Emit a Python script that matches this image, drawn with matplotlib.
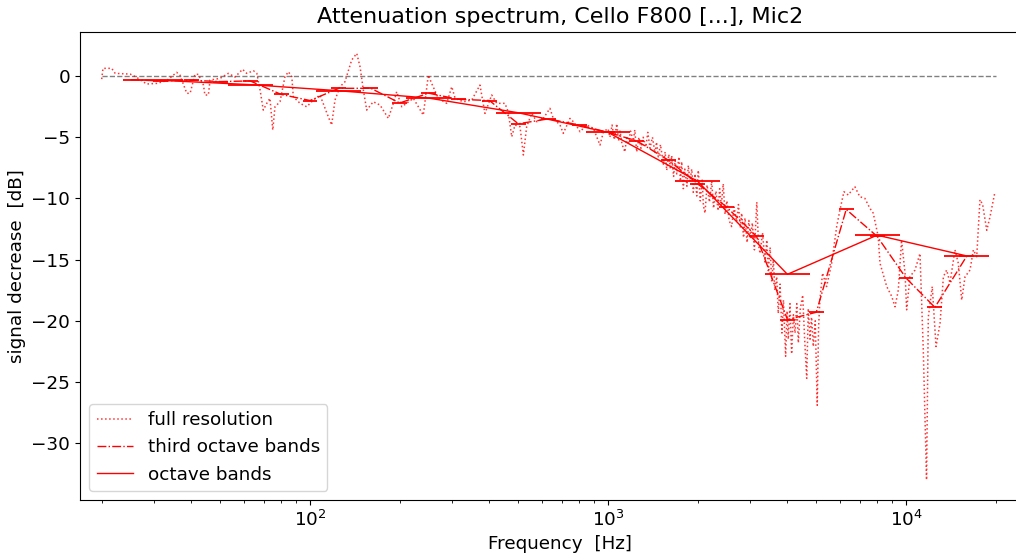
import numpy as np
import matplotlib
matplotlib.use("Agg")
import matplotlib.pyplot as plt

# full resolution spectrum, low part (Hz, dB)
low_freq = [20.0, 20.2, 21.6, 22.2, 24.9, 26.1, 28.3, 30.6, 33.0, 35.7, 36.6, 38.6, 39.6, 41.1, 42.2,
            43.9, 44.4, 45.6, 46.2, 49.9, 53.2, 56.0, 59.4, 61.3, 64.6, 66.3, 68.0, 69.7, 71.6, 73.4,
            75.0, 76.3, 79.3, 82.4, 84.6, 86.9, 87.9, 92.6, 97.5, 102.6, 108.0, 115.2, 118.2, 121.3,
            126.1, 131.0, 138.0, 143.5, 147.2, 151.0, 155.0, 163.0, 171.8, 183.2, 190.4, 195.4, 203.2,
            222.2, 240, 249.5, 256, 269.6, 287.6, 299, 306.9, 326.9, 348.9, 371.8, 386.4, 407.2, 423.3,
            451, 462.5, 475.3, 487.5, 506.8, 520, 533.4, 554.6, 576.6, 606.6, 638.6, 655, 690.2, 707.9,
            745.5, 774.8, 805.4, 848.3, 893, 940.1, 965.6]
low_db = [-0.25, 0.63, 0.63, 0.22, 0.16, -0.08, -0.65, -0.6, -0.38, 0.3, 0.08, -1.41, -1.41, 0.14, 0.14,
          -0.74, -1.55, -1.55, -0.33, -0.19, 0.22, -0.08, 0.55, 0.22, 0.43, 0.22, -1.14, -2.78, -2.23, -1.82,
          -4.41, -2.51, -2.1, -0.06, 0.35, -0.06, -1.69, -2.23, -2.51, -1.96, -1.55, -3.33, -4.0, -1.96,
          -0.87, -0.47, 1.31, 1.85, 0.76, -1.14, -2.78, -2.1, -2.37, -3.46, -2.23, -1.28, -2.51,
          -1.82, -3.19, 0.08, -0.6, -1.82, -2.23, -0.87, -1.82, -2.1, -1.96, -0.74, -3.05, -1.55, -2.23,
          -2.23, -2.92, -4.96, -4.0, -4.14, -6.45, -4.14, -3.05, -3.73, -3.46, -2.64, -3.46, -4.0, -4.68,
          -3.46, -3.86, -4.55, -4.0, -4.27, -5.64, -4.55]

# full resolution spectrum, dense middle part (Hz, dB)
mid_freq = [1000, 1015, 1032, 1050, 1070, 1085, 1097, 1115, 1140, 1155, 1170, 1190, 1216, 1230, 1248,
            1270, 1290, 1313, 1340, 1360, 1383, 1410, 1438, 1455, 1475, 1500, 1534, 1555, 1574, 1600,
            1620, 1636, 1660, 1680, 1701, 1730, 1750, 1767, 1790, 1810, 1840, 1860, 1884, 1910, 1933,
            1960, 1985, 2009, 2040, 2070, 2090, 2116, 2150, 2190, 2229, 2260, 2303, 2340, 2370, 2400,
            2436, 2470, 2506, 2550, 2599, 2650, 2702, 2740, 2780, 2809, 2850, 2882, 2930, 2970, 3010,
            3050, 3100, 3157, 3200, 3238, 3300, 3365, 3410, 3452, 3500, 3543, 3588, 3630, 3682, 3727,
            3780, 3834, 3880, 3945, 3990, 4027, 4080, 4132, 4190, 4243, 4300, 4352, 4420, 4501, 4570,
            4643, 4700, 4764, 4820, 4887, 4960, 5036, 5090, 5141]
mid_db = [-4.3, -5.0, -4.0, -5.2, -3.9, -5.3, -4.5, -5.6, -6.2, -4.9, -5.6, -4.5, -5.3, -4.4, -6.2,
          -5.0, -5.9, -5.0, -5.8, -4.6, -5.9, -5.0, -6.3, -5.4, -6.6, -5.6, -7.2, -6.2, -7.7, -6.4,
          -7.6, -6.5, -8.2, -6.9, -8.0, -6.6, -8.6, -7.0, -9.2, -7.6, -9.0, -7.3, -8.6, -7.6, -9.5,
          -8.0, -9.8, -7.7, -10.2, -8.5, -10.6, -11.2, -8.9, -10.3, -8.6, -10.8, -9.4, -11.0, -9.2, -10.6,
          -8.8, -11.3, -10.2, -11.8, -12.3, -10.7, -11.9, -10.5, -12.4, -11.2, -13.2, -11.6, -13.6, -11.8, -13.3,
          -12.0, -14.2, -10.3, -13.8, -14.5, -12.8, -15.2, -13.4, -15.9, -14.0, -16.8, -15.0, -17.5, -16.4, -19.4,
          -17.0, -21.0, -18.3, -22.9, -19.2, -21.5, -18.6, -22.7, -19.5, -21.0, -18.6, -21.8, -19.0, -17.9, -21.5,
          -24.7, -19.0, -21.5, -19.7, -22.1, -20.0, -26.9, -20.5, -18.3]

# full resolution spectrum, high part (Hz, dB)
high_freq = [5248, 5414, 5630, 5853, 6002, 6190, 6397, 6735, 6998, 7276, 7563, 7762, 8067, 8180, 8617,
             8954, 9186, 9421, 9664, 9926, 10050, 10310, 10720, 11140, 11430, 11720, 11880, 12250, 12610,
             13010, 13350, 13690, 14050, 14600, 14980, 15380, 15780, 16400, 16830, 17270, 17710, 18080,
             18660, 19140, 19890]
high_db = [-16.1, -17.2, -15.3, -12.3, -10.95, -9.45, -9.72, -9.04, -9.86, -9.99, -10.8, -11.2, -13.1,
           -15.3, -17.2, -18.0, -18.85, -17.5, -13.4, -16.1, -19.1, -16.4, -15.85, -14.5, -22.4, -33.0,
           -19.7, -17.2, -22.1, -20.2, -16.4, -15.85, -16.9, -14.2, -15.3, -18.3, -16.4, -15.85, -14.2,
           -14.76, -10.1, -10.5, -12.6, -11.5, -9.45]

# third octave bands
third_freq = [25, 31.5, 40, 50, 63, 80, 100, 125, 160, 200, 250, 315, 400, 500, 630, 800, 1000,
              1250, 1600, 2000, 2500, 3150, 4000, 5000, 6300, 8000, 10000, 12500, 16000]
third_db = [-0.3, -0.4, -0.35, -0.45, -0.4, -1.5, -2.0, -1.0, -1.0, -2.2, -1.4, -1.9, -2.0, -3.9,
            -3.5, -4.0, -4.6, -5.3, -6.9, -8.8, -10.7, -13.1, -19.9, -19.3, -10.9, -13.1, -16.5,
            -18.9, -14.7]

# octave bands
oct_freq = [31.5, 63, 125, 250, 500, 1000, 2000, 4000, 8000, 16000]
oct_db = [-0.35, -0.7, -1.2, -1.8, -3.0, -4.6, -8.6, -16.2, -13.0, -14.7]

ref_freq = [20, 20000]
ref_db = [0, 0]

full_freq = low_freq + mid_freq + high_freq
full_db = low_db + mid_db + high_db

W, H = 1016, 555
fig = plt.figure(figsize=(W / 100, H / 100), dpi=100)
ax_left, ax_right, ax_top, ax_bottom = 80, 1040, 31.5, 500
ax = fig.add_axes([ax_left / W, (H - ax_bottom) / H, (ax_right - ax_left) / W, (ax_bottom - ax_top) / H])

ax.plot(ref_freq, ref_db, '--', color='gray', lw=1)
ax.plot(full_freq, full_db, ':', color='red', lw=1.1, alpha=0.8, label='full resolution')
ax.plot(third_freq, third_db, '-.', color='red', lw=1, label='third octave bands')
ax.plot(oct_freq, oct_db, '-', color='red', lw=1, label='octave bands')

tf = np.array(third_freq, dtype=float)
ax.hlines(third_db, tf * 2 ** (-1 / 12), tf * 2 ** (1 / 12), color='red', lw=1.3)
of = np.array(oct_freq, dtype=float)
ax.hlines(oct_db, of * 2 ** (-1 / 4), of * 2 ** (1 / 4), color='red', lw=1.3)

ax.set_xscale('log')
ax.set_xlim(10 ** (2 - (310 - ax_left) / 298), 10 ** (2 + (ax_right - 310) / 298))
ax.set_ylim(-34.64, 3.64)
ax.set_yticks([0, -5, -10, -15, -20, -25, -30])
fs = 13.2
ax.tick_params(labelsize=fs)
ax.set_xlabel('Frequency  [Hz]', fontsize=fs)
ax.set_ylabel('signal decrease  [dB]', fontsize=fs)
ax.set_title('Attenuation spectrum, Cello F800 [...], Mic2', fontsize=16)
ax.legend(loc='lower left', fontsize=fs)

fig.savefig('out.png', dpi=100)
